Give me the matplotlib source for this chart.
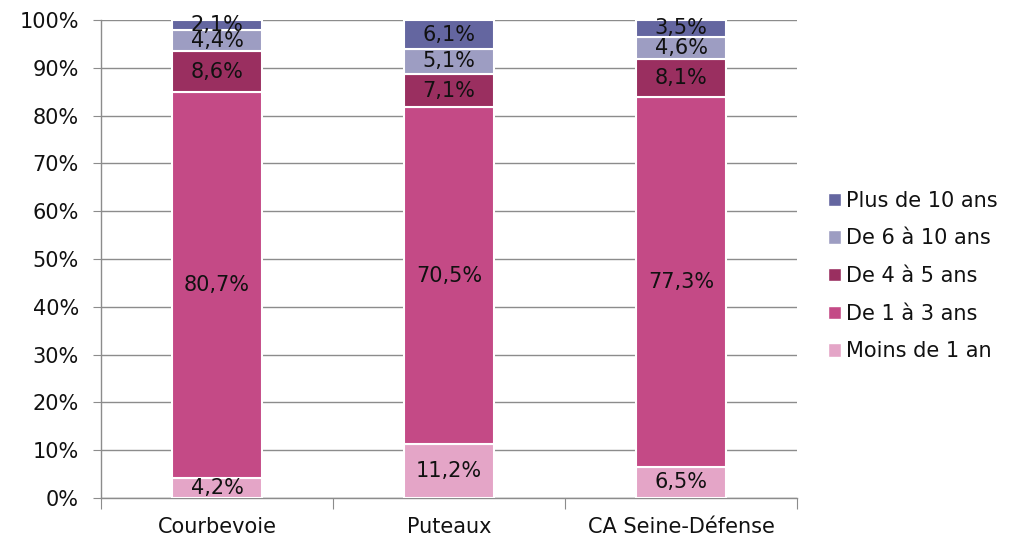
import matplotlib
matplotlib.use("Agg")
import matplotlib.pyplot as plt
from matplotlib.patches import Patch
import numpy as np

categories = ["Courbevoie", "Puteaux", "CA Seine-Défense"]
series_names = ["Moins de 1 an", "De 1 à 3 ans", "De 4 à 5 ans", "De 6 à 10 ans", "Plus de 10 ans"]
moins_1 = [4.2, 11.2, 6.5]
de_1_3 = [80.7, 70.5, 77.3]
de_4_5 = [8.6, 7.1, 8.1]
de_6_10 = [4.4, 5.1, 4.6]
plus_10 = [2.1, 6.1, 3.5]
yticks = [0, 10, 20, 30, 40, 50, 60, 70, 80, 90, 100]

series = [moins_1, de_1_3, de_4_5, de_6_10, plus_10]
colors = ["#E4A5C7", "#C44A86", "#9A2F60", "#9D9DC2", "#6466A0"]

FS = 15
plt.rcParams['font.family'] = ['DejaVu Sans']
fig = plt.figure(figsize=(10.09, 5.39), dpi=100)
ax = fig.add_axes([101/1009, 1-498/539, (797-101)/1009, (498-20)/539])

x = np.arange(len(categories))
bottom = np.zeros(len(categories))
for vals, col in zip(series, colors):
    v = np.array(vals)
    ax.bar(x, v, 0.39, bottom=bottom, color=col, edgecolor="white", linewidth=1.5, zorder=3)
    for xi, b, h in zip(x, bottom, v):
        ax.text(xi, b + h/2, f"{h:.1f}%".replace(".", ","), ha="center", va="center",
                fontsize=FS, color="#111111", zorder=4)
    bottom += v

ax.set_xlim(-0.5, 2.5)
ax.set_ylim(0, 100)
ax.set_yticks(yticks)
ax.set_yticklabels([f"{t}%" for t in yticks], fontsize=FS, color="#111111")
ax.yaxis.grid(True, color="#8C8C8C", linewidth=1, zorder=0)
ax.set_axisbelow(True)
for s in ["top", "right"]:
    ax.spines[s].set_visible(False)
for s in ["left", "bottom"]:
    ax.spines[s].set_color("#8C8C8C")
    ax.spines[s].set_linewidth(1)
ax.tick_params(axis="y", direction="out", length=6, color="#8C8C8C", pad=10)
ax.set_xticks([-0.5, 0.5, 1.5, 2.5], minor=False)
ax.set_xticklabels([])
ax.tick_params(axis="x", which="major", direction="out", length=8, color="#8C8C8C")
ax.set_xticks(x, minor=True)
ax.set_xticklabels(categories, minor=True, fontsize=FS, color="#111111")
ax.tick_params(axis="x", which="minor", length=0, pad=14)

handles = [Patch(facecolor=c, edgecolor="white") for c in colors][::-1]
labels = series_names[::-1]
leg = fig.legend(handles, labels, loc="center left", bbox_to_anchor=(828/1009, 1-276/539),
                 frameon=False, fontsize=FS, handlelength=0.6, handleheight=0.6,
                 handletextpad=0.25, labelspacing=0.85, borderaxespad=0, borderpad=0)
for t in leg.get_texts():
    t.set_color("#111111")

fig.savefig("out.png", dpi=100)
